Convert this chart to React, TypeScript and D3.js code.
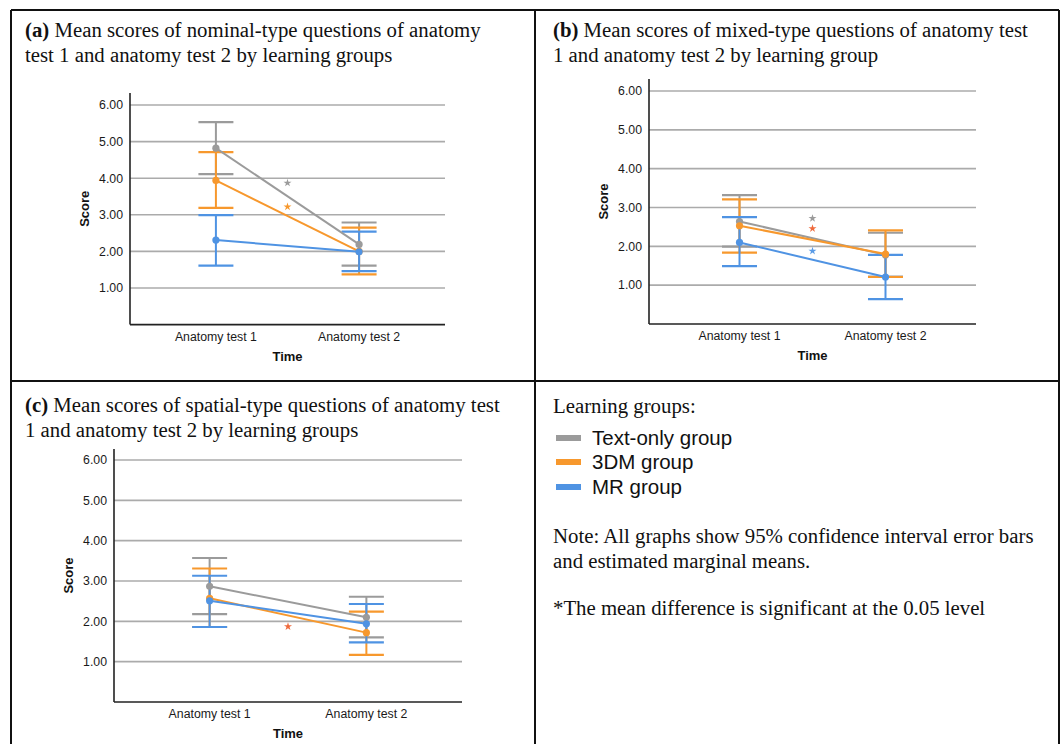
import React from "react";
import * as d3 from "d3";

// ---------- DATA ----------
const categories = ["Anatomy test 1", "Anatomy test 2"];
const groups = ["Text-only group", "3DM group", "MR group"];
const groupColors = ["#9b9b9b", "#f7982d", "#4f93e3"];
const yTicks = [1, 2, 3, 4, 5, 6];

// Panel (a) nominal-type
const aMean = [[4.82, 2.19], [3.94, 2.0], [2.31, 1.99]];
const aLow = [[4.11, 1.61], [3.19, 1.37], [1.61, 1.46]];
const aHigh = [[5.53, 2.79], [4.71, 2.65], [2.99, 2.54]];
const aStars = [{ g: 0, v: 3.87, c: "#9b9b9b" }, { g: 1, v: 3.22, c: "#f7982d" }];

// Panel (b) mixed-type
const bMean = [[2.64, 1.78], [2.53, 1.8], [2.1, 1.21]];
const bLow = [[1.99, 1.22], [1.84, 1.21], [1.49, 0.64]];
const bHigh = [[3.32, 2.35], [3.21, 2.41], [2.75, 1.78]];
const bStars = [{ g: 0, v: 2.72, c: "#9b9b9b" }, { g: 1, v: 2.46, c: "#ef6a3c" }, { g: 2, v: 1.88, c: "#5a9be6" }];

// Panel (c) spatial-type
const cMean = [[2.87, 2.1], [2.57, 1.72], [2.51, 1.94]];
const cLow = [[2.18, 1.6], [1.86, 1.17], [1.86, 1.48]];
const cHigh = [[3.57, 2.61], [3.31, 2.24], [3.13, 2.43]];
const cStars = [{ g: 1, v: 1.87, c: "#ef6a3c" }];

const serif = "'Liberation Serif', 'Times New Roman', serif";
const sans = "'Liberation Sans', Arial, sans-serif";
const titleSize = 20.8;

type Layout = { x0: number; x1: number; yZero: number; ySix: number; yTop: number; pad: number };

function Panel({ L, mean, low, high, stars }: { L: Layout; mean: number[][]; low: number[][]; high: number[][]; stars: { g: number; v: number; c: string }[] }) {
  const x = d3.scalePoint<string>().domain(categories).range([L.x0, L.x1]).padding(L.pad);
  const y = d3.scaleLinear().domain([0, 6]).range([L.yZero, L.ySix]);
  const line = d3.line<number>().x((_, i) => x(categories[i]) as number).y((d) => y(d));
  const cap = 17.5;
  const midX = ((x(categories[0]) as number) + (x(categories[1]) as number)) / 2;
  const star = d3.symbol().type(d3.symbolStar).size(20)();
  return (
    <g>
      {yTicks.map((t) => (
        <g key={t}>
          <line x1={L.x0} x2={L.x1} y1={y(t)} y2={y(t)} stroke="#ababab" strokeWidth={1.6} />
          <text x={L.x0 - 7} y={y(t)} dy="0.35em" textAnchor="end" fontFamily={sans} fontSize={12.3} fill="#1a1a1a">
            {t.toFixed(2)}
          </text>
        </g>
      ))}
      <line x1={L.x0} x2={L.x0} y1={L.yTop} y2={L.yZero} stroke="#222" strokeWidth={1.6} />
      <line x1={L.x0} x2={L.x1} y1={L.yZero} y2={L.yZero} stroke="#222" strokeWidth={1.6} />
      {categories.map((c) => (
        <text key={c} x={x(c)} y={L.yZero + 16} textAnchor="middle" fontFamily={sans} fontSize={12.3} fill="#1a1a1a">
          {c}
        </text>
      ))}
      <text x={(L.x0 + L.x1) / 2} y={L.yZero + 36} textAnchor="middle" fontFamily={sans} fontSize={13} fontWeight="bold" fill="#111">
        Time
      </text>
      <text
        transform={`translate(${L.x0 - 41},${(L.yTop + L.yZero) / 2}) rotate(-90)`}
        textAnchor="middle"
        fontFamily={sans}
        fontSize={13}
        fontWeight="bold"
        fill="#111"
      >
        Score
      </text>
      {groups.map((g, gi) => (
        <g key={g}>
          {categories.map((c, ci) => {
            const cx = x(c) as number;
            return (
              <g key={c}>
                <line x1={cx} x2={cx} y1={y(low[gi][ci])} y2={y(high[gi][ci])} stroke={groupColors[gi]} strokeWidth={2} />
                <line x1={cx - cap} x2={cx + cap} y1={y(low[gi][ci])} y2={y(low[gi][ci])} stroke={groupColors[gi]} strokeWidth={2.2} />
                <line x1={cx - cap} x2={cx + cap} y1={y(high[gi][ci])} y2={y(high[gi][ci])} stroke={groupColors[gi]} strokeWidth={2.2} />
              </g>
            );
          })}
        </g>
      ))}
      {groups.map((g, gi) => (
        <g key={g + "l"}>
          <path d={line(mean[gi]) || ""} fill="none" stroke={groupColors[gi]} strokeWidth={2} />
          {mean[gi].map((v, ci) => (
            <circle key={ci} cx={x(categories[ci])} cy={y(v)} r={3.6} fill={groupColors[gi]} />
          ))}
        </g>
      ))}
      {stars.map((s, i) => (
        <path key={i} d={star || ""} transform={`translate(${midX},${y(s.v)})`} fill={s.c} />
      ))}
    </g>
  );
}

export default function App() {
  const LA: Layout = { x0: 130, x1: 445, yZero: 324.6, ySix: 105, yTop: 93, pad: 0.6 };
  const LB: Layout = { x0: 649, x1: 976, yZero: 324, ySix: 91, yTop: 79, pad: 0.62 };
  const LC: Layout = { x0: 114, x1: 462, yZero: 702, ySix: 460, yTop: 449, pad: 0.61 };
  const legendY = [438, 462, 487];
  return (
    <svg width={1060} height={744} style={{ position: "absolute", left: 0, top: 0, background: "#fff" }}>
      <rect x={0} y={0} width={1060} height={744} fill="#fff" />
      {/* table frame */}
      <line x1={11} x2={1059} y1={10} y2={10} stroke="#111" strokeWidth={2} />
      <line x1={11} x2={11} y1={10} y2={744} stroke="#111" strokeWidth={2} />
      <line x1={1059} x2={1059} y1={10} y2={744} stroke="#111" strokeWidth={2} />
      <line x1={535} x2={535} y1={10} y2={744} stroke="#111" strokeWidth={2} />
      <line x1={11} x2={1059} y1={381} y2={381} stroke="#111" strokeWidth={2} />

      {/* titles */}
      <text x={25} y={37} fontFamily={serif} fontSize={titleSize} fill="#111">
        <tspan fontWeight="bold">(a)</tspan> Mean scores of nominal-type questions of anatomy
      </text>
      <text x={25} y={62} fontFamily={serif} fontSize={titleSize} fill="#111">test 1 and anatomy test 2 by learning groups</text>
      <text x={553} y={37} fontFamily={serif} fontSize={titleSize} fill="#111">
        <tspan fontWeight="bold">(b)</tspan> Mean scores of mixed-type questions of anatomy test
      </text>
      <text x={553} y={62} fontFamily={serif} fontSize={titleSize} fill="#111">1 and anatomy test 2 by learning group</text>
      <text x={25} y={412} fontFamily={serif} fontSize={titleSize} fill="#111">
        <tspan fontWeight="bold">(c)</tspan> Mean scores of spatial-type questions of anatomy test
      </text>
      <text x={25} y={437} fontFamily={serif} fontSize={titleSize} fill="#111">1 and anatomy test 2 by learning groups</text>

      <Panel L={LA} mean={aMean} low={aLow} high={aHigh} stars={aStars} />
      <Panel L={LB} mean={bMean} low={bLow} high={bHigh} stars={bStars} />
      <Panel L={LC} mean={cMean} low={cLow} high={cHigh} stars={cStars} />

      {/* legend */}
      <text x={553} y={413} fontFamily={serif} fontSize={titleSize} fill="#111">Learning groups:</text>
      {groups.map((g, i) => (
        <g key={g}>
          <rect x={556} y={legendY[i] - 3} width={25} height={6} fill={groupColors[i]} />
          <text x={592} y={legendY[i]} dy="0.35em" fontFamily={sans} fontSize={20.5} fill="#111">
            {g}
          </text>
        </g>
      ))}
      <text x={553} y={543} fontFamily={serif} fontSize={titleSize} fill="#111">Note: All graphs show 95% confidence interval error bars</text>
      <text x={553} y={568} fontFamily={serif} fontSize={titleSize} fill="#111">and estimated marginal means.</text>
      <text x={553} y={615} fontFamily={serif} fontSize={titleSize} fill="#111">*The mean difference is significant at the 0.05 level</text>
    </svg>
  );
}
